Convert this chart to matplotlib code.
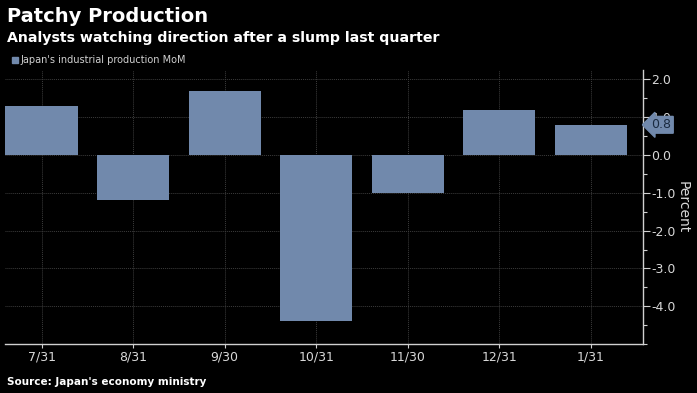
import matplotlib
matplotlib.use("Agg")
import matplotlib.pyplot as plt
from matplotlib.ticker import MultipleLocator
from matplotlib import font_manager

categories = ["7/31", "8/31", "9/30", "10/31", "11/30", "12/31", "1/31"]
values = [1.3, -1.2, 1.7, -4.4, -1.0, 1.2, 0.8]
yticks = [2.0, 1.0, 0.0, -1.0, -2.0, -3.0, -4.0]

names = {f.name for f in font_manager.fontManager.ttflist}
narrow = "Liberation Sans Narrow" if "Liberation Sans Narrow" in names else None

bar_color = "#7189ac"
fig = plt.figure(figsize=(6.97, 3.93), dpi=100, facecolor="black")
ax = fig.add_axes([5/697, 1 - 344/393, (643-5)/697, (344-70)/393])
ax.set_facecolor("black")

x = list(range(len(categories)))
ax.bar(x, values, width=0.79, color=bar_color, zorder=3)
ax.set_xlim(-0.4, 6.57)
ax.set_ylim(-5.0, 2.25)

ax.yaxis.tick_right()
ax.yaxis.set_label_position("right")
ax.set_yticks(yticks)
ax.set_yticklabels([f"{v:.1f}" for v in yticks])
ax.yaxis.set_minor_locator(MultipleLocator(0.5))
ax.set_xticks(x)
ax.set_xticklabels(categories)

for s in ["top", "left"]:
    ax.spines[s].set_visible(False)
for s in ["right", "bottom"]:
    ax.spines[s].set_color("#d0d0d0")
    ax.spines[s].set_linewidth(1.0)

ax.tick_params(axis="y", which="major", colors="#d0d0d0", labelcolor="#d8d8d8",
               labelsize=9, length=5, width=0.8, pad=1)
ax.tick_params(axis="y", which="minor", colors="#d0d0d0", length=3, width=0.8)
ax.tick_params(axis="x", colors="#d0d0d0", labelcolor="#d8d8d8", labelsize=9,
               length=3, width=0.8, pad=2)

ax.grid(True, which="major", color="#3c3c3c", linestyle=(0, (1, 1)), linewidth=0.7, zorder=0)

ax.set_ylabel("Percent", rotation=270, color="#d8d8d8", fontsize=10, labelpad=10)

# last value annotation
ax.annotate(f"{values[-1]:.1f}", xy=(6.57, values[-1]), xycoords="data",
            xytext=(6, 0), textcoords="offset points", va="center", ha="left",
            fontsize=9, color="#1a2a40",
            bbox=dict(boxstyle="larrow,pad=0.15", fc=bar_color, ec=bar_color),
            annotation_clip=False, zorder=5)

if narrow:
    tfam = [narrow, "DejaVu Sans"]
    tsize, ssize = 18, 14
else:
    tfam = ["DejaVu Sans"]
    tsize, ssize = 14, 10.2
fig.text(7/697, 1 - 17/393, "Patchy Production", color="white", fontsize=tsize,
         fontweight="bold", va="center", ha="left", family=tfam)
fig.text(7/697, 1 - 38/393, "Analysts watching direction after a slump last quarter",
         color="white", fontsize=ssize, fontweight="bold", va="center", ha="left", family=tfam)
fig.patches.append(plt.Rectangle((12/697, 1 - 63/393), 6/697, 6/393,
                                 transform=fig.transFigure, color=bar_color))
fig.text(20/697, 1 - 60/393, "Japan's industrial production MoM", color="#d0d0d0",
         fontsize=7, va="center", ha="left")
fig.text(7/697, 1 - 382/393, "Source: Japan's economy ministry", color="white",
         fontsize=7.5, fontweight="bold", va="center", ha="left")

fig.savefig("out.png", dpi=100, facecolor="black")
